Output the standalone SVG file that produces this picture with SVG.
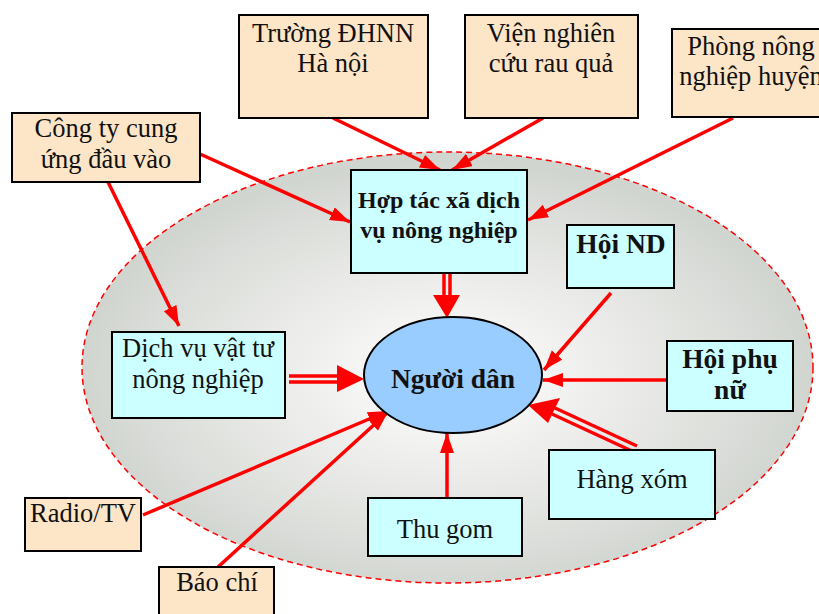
<svg xmlns="http://www.w3.org/2000/svg" width="819" height="614" viewBox="0 0 819 614">
<style>
.box{stroke:#000;stroke-width:2}
.peach{fill:#fde5c8}
.cyan{fill:#ccffff}
.t{font-family:"Liberation Serif","Times New Roman",serif;font-size:26.5px;fill:#111;text-anchor:middle}
.b{font-weight:bold;font-size:24px}
.bb{font-weight:bold;font-size:27.5px}
.c{stroke:#ff0000;stroke-width:3.5;fill:none}
.h{fill:#ff0000}
</style>
<defs>
<radialGradient id="g" cx="0.5" cy="0.52" r="0.5">
<stop offset="0" stop-color="#ffffff"/>
<stop offset="0.55" stop-color="#e8e9e6"/>
<stop offset="1" stop-color="#d1d5d0"/>
</radialGradient>
<marker id="a" markerUnits="userSpaceOnUse" markerWidth="22" markerHeight="16" refX="20" refY="7" orient="auto">
<path d="M0,0 L20,7 L0,14 z" fill="#ff0000"/>
</marker>
</defs>
<ellipse id="boundary" cx="447.5" cy="367.5" rx="365.5" ry="215.5" fill="url(#g)" stroke="#ff0000" stroke-width="1.5" stroke-dasharray="6,4"/>

<g id="connectors">
<line class="c" x1="333" y1="118" x2="440" y2="170" marker-end="url(#a)"/>
<line class="c" x1="543" y1="118" x2="452" y2="170" marker-end="url(#a)"/>
<line class="c" x1="200" y1="154" x2="350" y2="222" marker-end="url(#a)"/>
<line class="c" x1="733" y1="118" x2="528" y2="220" marker-end="url(#a)"/>
<line class="c" x1="108" y1="182" x2="179" y2="326" marker-end="url(#a)"/>
<line class="c" x1="611" y1="293" x2="544" y2="370" marker-end="url(#a)"/>
<line class="c" x1="687" y1="380" x2="543" y2="380" marker-end="url(#a)"/>
<line class="c" x1="447" y1="498" x2="447" y2="433" marker-end="url(#a)"/>
<line class="c" x1="143" y1="515" x2="388" y2="411" marker-end="url(#a)"/>
<line class="c" x1="218" y1="567" x2="388" y2="412" marker-end="url(#a)"/>
<line class="c" x1="444" y1="272" x2="444" y2="297" stroke-width="3"/>
<line class="c" x1="450" y1="272" x2="450" y2="297" stroke-width="3"/>
<polygon class="h" points="433,295 460,295 447,318"/>
<line class="c" x1="289" y1="376" x2="339" y2="376" stroke-width="3"/>
<line class="c" x1="289" y1="382" x2="339" y2="382" stroke-width="3"/>
<polygon class="h" points="337,365 337,392 364,379"/>
<line class="c" x1="637" y1="446" x2="555" y2="408" stroke-width="3"/>
<line class="c" x1="634" y1="452" x2="552" y2="414" stroke-width="3"/>
<polygon class="h" points="560,398 548,423 528,405"/>
</g>

<g id="truong">
<rect class="box peach" x="239" y="15" width="189" height="103"/>
<text class="t" x="333" y="42">Trường ĐHNN</text>
<text class="t" x="333" y="72">Hà nội</text>
</g>
<g id="vien">
<rect class="box peach" x="465" y="15" width="173" height="103"/>
<text class="t" x="551" y="42">Viện nghiên</text>
<text class="t" x="551" y="72">cứu rau quả</text>
</g>
<g id="phong">
<rect class="box peach" x="672" y="29" width="160" height="88"/>
<text class="t" x="751" y="55">Phòng nông</text>
<text class="t" x="751" y="85">nghiệp huyện</text>
</g>
<g id="congty">
<rect class="box peach" x="12" y="113" width="188" height="69"/>
<text class="t" x="106" y="137">Công ty cung</text>
<text class="t" x="106" y="168">ứng đầu vào</text>
</g>
<g id="htx">
<rect class="box cyan" x="351" y="170" width="176" height="103"/>
<text class="t b" x="439" y="208">Hợp tác xã dịch</text>
<text class="t b" x="439" y="238">vụ nông nghiệp</text>
</g>
<g id="hoind">
<rect class="box cyan" x="567" y="225" width="107" height="63"/>
<text class="t bb" x="621" y="253">Hội ND</text>
</g>
<g id="hoiphunu">
<rect class="box cyan" x="667" y="341" width="126" height="70"/>
<text class="t bb" x="730" y="368">Hội phụ</text>
<text class="t bb" x="730" y="399">nữ</text>
</g>
<g id="dichvu">
<rect class="box cyan" x="112" y="332" width="173" height="86"/>
<text class="t" x="198" y="357">Dịch vụ vật tư</text>
<text class="t" x="198" y="388">nông nghiệp</text>
</g>
<g id="nguoidan">
<ellipse cx="453" cy="375" rx="89" ry="58" fill="#99ccff" stroke="#000" stroke-width="2"/>
<text class="t bb" x="453" y="388">Người dân</text>
</g>
<g id="hangxom">
<rect class="box cyan" x="549" y="450" width="166" height="69"/>
<text class="t" x="632" y="488">Hàng xóm</text>
</g>
<g id="thugom">
<rect class="box cyan" x="368" y="498" width="154" height="58"/>
<text class="t" x="445" y="538">Thu gom</text>
</g>
<g id="radio">
<rect class="box peach" x="25" y="498" width="116" height="53"/>
<text class="t" x="83" y="522">Radio/TV</text>
</g>
<g id="baochi">
<rect class="box peach" x="159" y="567" width="115" height="60"/>
<text class="t" x="217" y="591">Báo chí</text>
</g>
</svg>
